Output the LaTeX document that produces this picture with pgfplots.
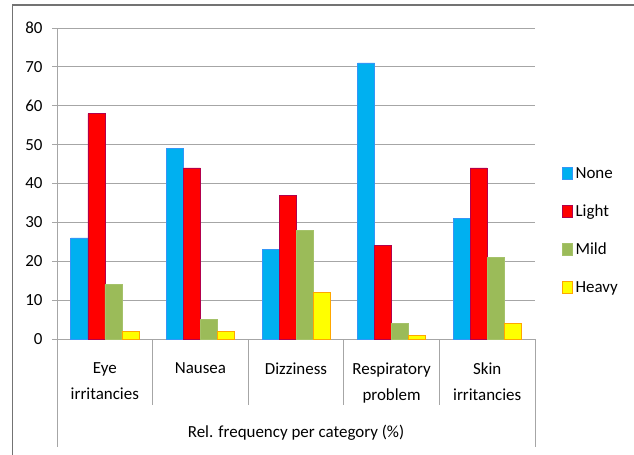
\documentclass[border=0pt]{standalone}
\usepackage{pgfplots}
\pgfplotsset{compat=1.18}
\usepackage{fontspec}
\setmainfont{Carlito}
\definecolor{cNone}{HTML}{00B0F0}
\definecolor{cLight}{HTML}{FF0000}
\definecolor{cMild}{HTML}{9BBB59}
\definecolor{cHeavy}{HTML}{FFFF00}
\definecolor{gridc}{HTML}{A6A6A6}
\begin{document}
\begin{tikzpicture}
\useasboundingbox (0bp,0bp) rectangle (634bp,455bp);
\draw[line width=1.5bp, color=black!55] (12.5bp,0bp) -- (12.5bp,450bp) -- (634bp,450bp);
\begin{axis}[
  at={(57bp,116bp)}, anchor=south west,
  scale only axis, width=478bp, height=311bp,
  xmin=-0.5, xmax=4.5, ymin=0, ymax=80,
  ytick={0,10,...,80},
  xtick={0,1,2,3,4},
  xticklabels={Eye\\irritancies, Nausea, Dizziness, Respiratory\\problem, Skin\\irritancies},
  xticklabel style={align=center, font=\fontsize{17}{26}\selectfont, yshift=-15bp},
  x tick style={draw=none},
  ymajorgrids, grid style={gridc, line width=0.8bp},
  axis line style={gridc, line width=0.8bp},
  axis x line=bottom, axis y line=left,
  y axis line style={-}, x axis line style={-},
  tick align=outside, major tick length=5bp,
  y tick style={gridc, line width=0.8bp},
  ytick pos=left,
  yticklabel style={font=\fontsize{17}{20}\selectfont, xshift=-6bp},
  /pgf/number format/assume math mode=true,
  ybar=0pt, bar width=17bp,
  clip=false,
  legend style={at={(1.056,0.349)}, anchor=west, draw=none, fill=none,
    font=\fontsize{17}{20}\selectfont, row sep=21bp, inner sep=0pt,
    nodes={inner xsep=3bp}},
  legend cell align=left,
  legend image code/.code={\fill[#1] (0bp,-6bp) rectangle (10bp,6bp); \draw[#1, fill=none, line width=0.6bp] (0bp,-6bp) rectangle (10bp,6bp);},
]
\addplot[fill=cNone, draw=cNone!70!blue!80!white, line width=0.6bp] coordinates {(0,26) (1,49) (2,23) (3,71) (4,31)};
\addplot[fill=cLight, draw=cLight!70!blue, line width=0.6bp] coordinates {(0,58) (1,44) (2,37) (3,24) (4,44)};
\addplot[fill=cMild, draw=cMild!90!white, line width=0.6bp] coordinates {(0,14) (1,5) (2,28) (3,4) (4,21)};
\addplot[fill=cHeavy, draw=orange!70!yellow, line width=0.6bp] coordinates {(0,2) (1,2) (2,12) (3,1) (4,4)};
\legend{None, Light, Mild, Heavy}
\draw[gridc, line width=0.8bp] (axis cs:0.5,0) -- ++(0pt,-66bp);
\draw[gridc, line width=0.8bp] (axis cs:1.5,0) -- ++(0pt,-66bp);
\draw[gridc, line width=0.8bp] (axis cs:2.5,0) -- ++(0pt,-66bp);
\draw[gridc, line width=0.8bp] (axis cs:3.5,0) -- ++(0pt,-66bp);
\draw[gridc, line width=0.8bp] (axis cs:-0.5,0) -- ++(0pt,-108bp);
\draw[gridc, line width=0.8bp] (axis cs:4.5,0) -- ++(0pt,-108bp);
\node[font=\fontsize{17}{20}\selectfont] at ([yshift=-94bp]axis cs:2,0) {Rel. frequency per category (\%)};
\end{axis}
\end{tikzpicture}
\end{document}
